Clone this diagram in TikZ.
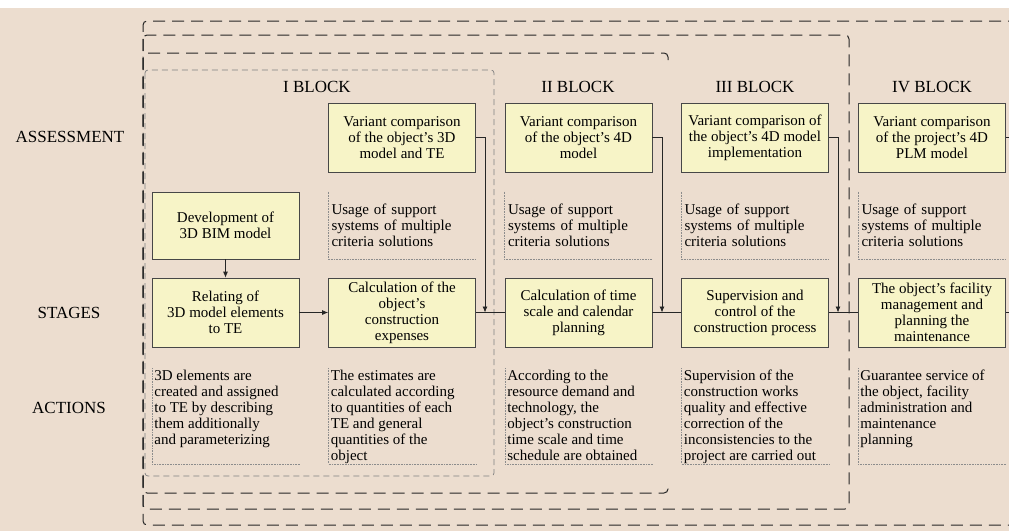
\documentclass[tikz,border=0pt]{standalone}
\usepackage{fontspec}
\setmainfont{Liberation Serif}
\usepackage{xcolor}
\usetikzlibrary{arrows.meta,positioning}

\definecolor{paper}{RGB}{236,221,207}
\definecolor{boxfill}{RGB}{247,244,199}
\definecolor{ink}{RGB}{38,38,38}

% fixed-size text block for the action notes
\newcommand{\actnote}[1]{\parbox[c][91pt][t]{143pt}{\raggedright #1}}

\begin{document}
\begin{tikzpicture}[x=1pt,y=-1pt,>={Latex[length=6pt,width=5pt]},line width=0.8pt,
  font=\fontsize{15}{16}\selectfont,
  rowlabel/.style={font=\fontsize{17}{19}\selectfont},
  blocktitle/.style={font=\fontsize{17}{19}\selectfont},
  stagebox/.style={draw=ink!85,fill=boxfill,line width=0.7pt,minimum width=147pt,
    minimum height=69pt,inner sep=2pt,align=center},
  usage/.style={minimum width=147pt,minimum height=67pt,inner sep=3pt,
    text width=141pt,align=left},
  action/.style={inner sep=2pt,anchor=north west},
  dotframe/.style={densely dotted,line width=0.6pt,black!45},
  tier/.style={ink,line width=1pt,dash pattern=on 12pt off 7pt,rounded corners=4pt},
  flow/.style={ink,line width=0.8pt}]

  % paper
  \fill[white] (0,0) rectangle (1009,531);
  \fill[paper] (0,8) rectangle (1009,531);
  \useasboundingbox (0,0) rectangle (1009,531);

  % nested block frames
  \draw[tier] (1020,21) -- (143,21) -- (143,525) -- (1020,525);
  \draw[tier] (143,35) rectangle (849,509);
  \draw[tier] (668,60) -- (668,53) -- (143,53) -- (143,493) -- (668,493) -- (668,486);
  \draw[black!50,line width=0.7pt,dash pattern=on 6pt off 4pt,rounded corners=3pt]
    (145,70) rectangle (494,476);

  % row labels
  \node[rowlabel] (lassess) at (70,137) {ASSESSMENT};
  \node[rowlabel] (lstages) at (69,313) {STAGES};
  \node[rowlabel] (lactions) at (69,408) {ACTIONS};

  % block titles
  \node[blocktitle] (tI)   at (317,87) {I BLOCK};
  \node[blocktitle] (tII)  at (578,87) {II BLOCK};
  \node[blocktitle] (tIII) at (755,87) {III BLOCK};
  \node[blocktitle] (tIV)  at (932,87) {IV BLOCK};

  % assessment row
  \node[stagebox] (a1) at (402,137.5) {Variant comparison\\of the object's 3D\\model and TE};
  \node[stagebox] (a2) at (578.5,137.5) {Variant comparison\\of the object's 4D\\model};
  \node[stagebox] (a3) at (755,137.5) {Variant comparison of\\the object's 4D model\\implementation};
  \node[stagebox] (a4) at (932,137.5) {Variant comparison\\of the project's 4D\\PLM model};

  % support row
  \node[stagebox,minimum height=67pt] (dev) at (225.5,225.5) {Development of\\3D BIM model};
  \foreach \n/\x in {u1/402,u2/578.5,u3/755,u4/932}
    \node[usage] (\n) at (\x,225.5) {Usage of support\\systems of multiple\\criteria solutions};

  % stages row
  \node[stagebox] (s1) at (225.5,312.5) {Relating of\\3D model elements\\to TE};
  \node[stagebox] (s2) at (402,312.5) {Calculation of the\\object's\\construction\\expenses};
  \node[stagebox] (s3) at (578.5,312.5) {Calculation of time\\scale and calendar\\planning};
  \node[stagebox] (s4) at (755,312.5) {Supervision and\\control of the\\construction process};
  \node[stagebox] (s5) at (932,312.5) {The object's facility\\management and\\planning the\\maintenance};

  % actions row
  \node[action] (c1) at (152,368) {\actnote{3D elements are\\created and assigned\\to TE by describing\\them additionally\\and parameterizing}};
  \node[action] (c2) at (328.5,368) {\actnote{The estimates are\\calculated according\\to quantities of each\\TE and general\\quantities of the\\object}};
  \node[action] (c3) at (505,368) {\actnote{According to the\\resource demand and\\technology, the\\object's construction\\time scale and time\\schedule are obtained}};
  \node[action] (c4) at (681.5,368) {\actnote{Supervision of the\\construction works\\quality and effective\\correction of the\\inconsistencies to the\\project are carried out}};
  \node[action] (c5) at (858,368) {\actnote{Guarantee service of\\the object, facility\\administration and\\maintenance\\planning}};

  % dotted note frames
  \foreach \n in {u1,u2,u3,u4,c1,c2,c3,c4,c5}
    \draw[dotframe] (\n.north west) -- (\n.south west) -- (\n.south east);

  % stage sequence
  \coordinate (j1) at (485,312.5);
  \coordinate (j2) at (662,312.5);
  \coordinate (j3) at (838,312.5);
  \coordinate (outA) at (1015,137.5);
  \coordinate (outS) at (1015,312.5);
  \draw[flow,->] (dev) -- (s1);
  \draw[flow,->] (s1) -- (s2);
  \draw[flow] (s2) -- (s3);
  \draw[flow] (s3) -- (s4);
  \draw[flow] (s4) -- (s5);
  \draw[flow] (s5) -- (outS);

  % assessment feeds into the sequence
  \foreach \a/\j in {a1/j1,a2/j2,a3/j3}
    \draw[flow,->] (\a.east) -| (\j);
  \draw[flow] (a4) -- (outA);
\end{tikzpicture}
\end{document}
